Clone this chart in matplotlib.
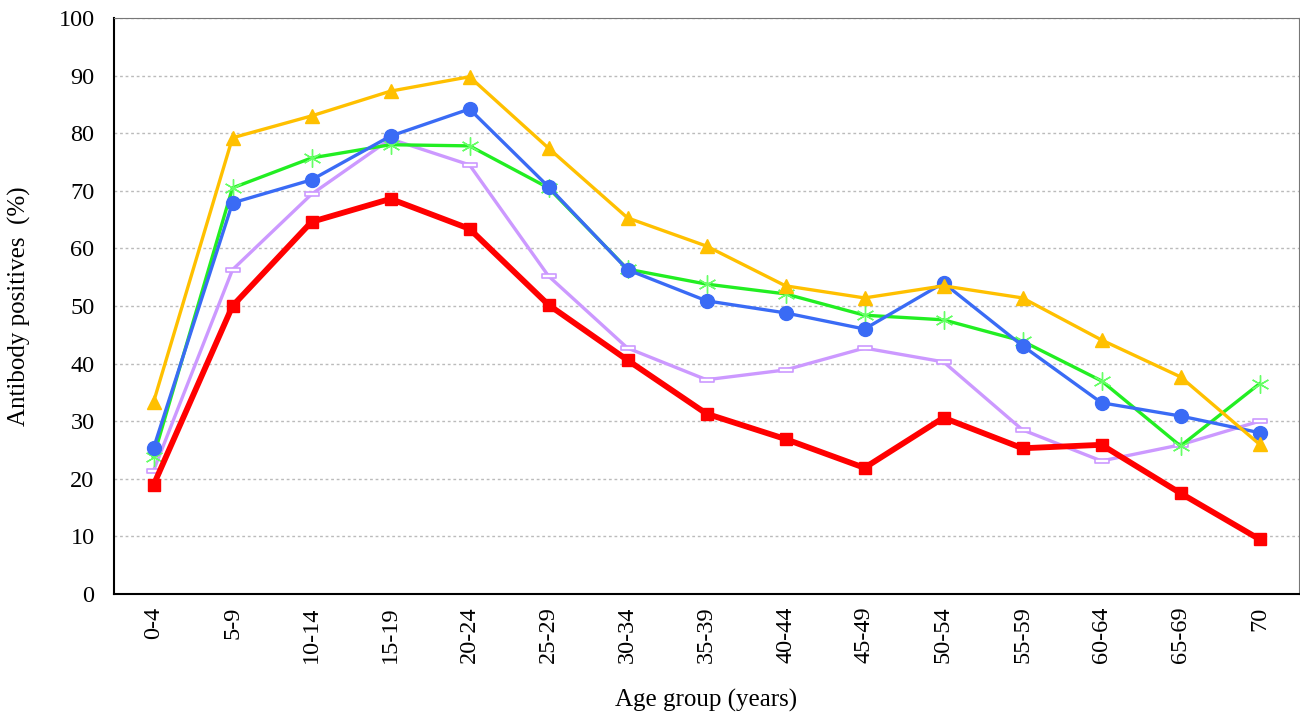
import matplotlib
matplotlib.use("Agg")
import matplotlib.pyplot as plt
from matplotlib.path import Path

categories = ["0-4", "5-9", "10-14", "15-19", "20-24", "25-29", "30-34", "35-39",
              "40-44", "45-49", "50-54", "55-59", "60-64", "65-69", "70"]

yellow_vals = [33.3, 79.2, 83.0, 87.3, 89.8, 77.4, 65.3, 60.4, 53.5, 51.4, 53.5, 51.4, 44.1, 37.7, 26.0]
blue_vals = [25.3, 67.9, 71.9, 79.5, 84.2, 70.7, 56.3, 50.9, 48.8, 46.0, 54.0, 43.1, 33.2, 30.9, 28.0]
green_vals = [23.8, 70.5, 75.7, 78.0, 77.8, 70.5, 56.4, 53.8, 52.1, 48.4, 47.6, 43.9, 37.0, 25.7, 36.5]
purple_vals = [21.4, 56.3, 69.4, 79.0, 74.5, 55.2, 42.7, 37.2, 38.9, 42.7, 40.3, 28.5, 23.1, 25.9, 30.0]
red_vals = [18.9, 50.0, 64.6, 68.6, 63.4, 50.2, 40.6, 31.3, 26.9, 21.9, 30.6, 25.3, 25.9, 17.5, 9.5]

yticks = [0, 10, 20, 30, 40, 50, 60, 70, 80, 90, 100]

plt.rcParams['font.family'] = ['Liberation Serif', 'DejaVu Serif']

fig = plt.figure(figsize=(13, 7.18), dpi=100)
ax = fig.add_axes([114/1300, 1 - 594/718, (1299-114)/1300, (594-18)/718])

x = list(range(len(categories)))

rect = Path([(-1, -0.35), (1, -0.35), (1, 0.35), (-1, 0.35), (-1, -0.35)],
            [Path.MOVETO, Path.LINETO, Path.LINETO, Path.LINETO, Path.CLOSEPOLY])

ax.plot(x, purple_vals, color='#CC99FF', lw=2.4, marker=rect, ms=10,
        mfc='white', mec='#CC99FF', mew=1.2, zorder=3)
ax.plot(x, green_vals, color='#22EE22', lw=2.4, marker=(6, 2, 0), ms=13,
        mec='#66FF66', mew=1.0, zorder=4)
ax.plot(x, blue_vals, color='#3A6BF5', lw=2.4, marker='o', ms=10,
        mfc='#3A6BF5', mec='#3A6BF5', zorder=5)
ax.plot(x, yellow_vals, color='#FFC000', lw=2.4, marker='^', ms=10,
        mfc='#FFC000', mec='#FFC000', zorder=6)
ax.plot(x, red_vals, color='#FF0000', lw=4.2, marker='s', ms=9,
        mfc='#FF0000', mec='#FF0000', zorder=7)

ax.set_xlim(-0.5, len(categories) - 0.5)
ax.set_ylim(0, 100)
ax.set_yticks(yticks)
ax.set_yticklabels([str(v) for v in yticks], fontsize=17.5)
ax.set_xticks(x)
ax.set_xticklabels(categories, rotation=90, fontsize=17.5)
ax.tick_params(axis='both', length=0)
ax.tick_params(axis='x', pad=9)
ax.tick_params(axis='y', pad=14)

ax.yaxis.grid(True, linestyle=(0, (2, 2)), color='#BBBBBB', lw=1.0)
ax.set_axisbelow(True)

ax.spines['left'].set_color('black')
ax.spines['left'].set_linewidth(1.5)
ax.spines['bottom'].set_color('black')
ax.spines['bottom'].set_linewidth(1.5)
ax.spines['top'].set_color('#777777')
ax.spines['top'].set_linestyle((0, (2, 1)))
ax.spines['right'].set_color('#777777')

ax.set_ylabel('Antibody positives  (%)', fontsize=18)
ax.yaxis.set_label_coords(-(114 - 31) / 1185, 0.5)
ax.set_xlabel('Age group (years)', fontsize=18)
ax.xaxis.set_label_coords(0.5, -(689 - 594) / 576)

fig.savefig('out.png', dpi=100)
